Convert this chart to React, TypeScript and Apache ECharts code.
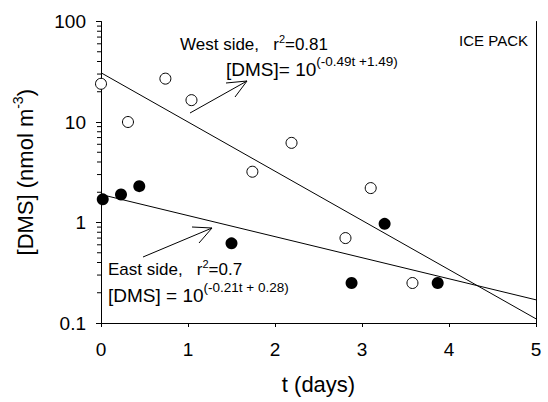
import React, { useEffect, useRef } from "react";
import * as echarts from "echarts";

const westT = [0, 0.31, 0.74, 1.04, 1.74, 2.19, 2.81, 3.1, 3.58];
const westDMS = [24, 10, 27, 16.5, 3.2, 6.2, 0.7, 2.2, 0.25];
const eastT = [0.02, 0.23, 0.44, 1.5, 2.88, 3.26, 3.87];
const eastDMS = [1.7, 1.9, 2.3, 0.62, 0.25, 0.97, 0.25];
const westFitT = [0, 5];
const westFitDMS = [30.9, 0.11];
const eastFitT = [0, 5];
const eastFitDMS = [1.9, 0.17];
const xTicks = [0, 1, 2, 3, 4, 5];
const yMinorTicks = [0.2, 0.3, 0.4, 0.5, 0.6, 0.7, 0.8, 0.9, 2, 3, 4, 5, 6, 7, 8, 9, 20, 30, 40, 50, 60, 70, 80, 90];

const FONT = "'Liberation Sans', Arial, Helvetica, sans-serif";

export default function App() {
  const ref = useRef<HTMLDivElement>(null);
  useEffect(() => {
    if (!ref.current) return;
    const chart = echarts.init(ref.current, undefined, { renderer: "svg" });
    const zip = (a: number[], b: number[]) => a.map((v, i) => [v, b[i]]);
    const eqRich = {
      a: { fontSize: 19, fontFamily: FONT, color: "#000" },
      s: { fontSize: 13.5, fontFamily: FONT, color: "#000", padding: [0, 0, 16, 0] },
    };
    const hdRich = {
      a: { fontSize: 17, fontFamily: FONT, color: "#000" },
      s: { fontSize: 11, fontFamily: FONT, color: "#000", padding: [0, 0, 11, 0] },
    };
    chart.setOption({
      animation: false,
      backgroundColor: "#fff",
      grid: { left: 101, right: 12, top: 21.5, bottom: 79 },
      xAxis: {
        type: "value",
        min: 0,
        max: 5,
        interval: 1,
        name: "t (days)",
        nameLocation: "middle",
        nameGap: 50,
        nameTextStyle: { fontSize: 22, fontFamily: FONT, color: "#000" },
        axisLine: { show: true, lineStyle: { color: "#000", width: 1 } },
        axisTick: { show: true, length: 4, lineStyle: { color: "#000" } },
        axisLabel: {
          fontSize: 19,
          fontFamily: FONT,
          color: "#000",
          margin: 17,
          formatter: (v: number) => (xTicks.includes(v) ? String(v) : ""),
        },
        splitLine: { show: false },
      },
      yAxis: [
        {
          type: "log",
          logBase: 10,
          min: 0.1,
          max: 100,
          name: "{a|[DMS] (nmol m}{s|-3}{a|)}",
          nameLocation: "middle",
          nameGap: 62,
          nameRotate: 90,
          nameTextStyle: {
            rich: {
              a: { fontSize: 22, fontFamily: FONT, color: "#000" },
              s: { fontSize: 14, fontFamily: FONT, color: "#000", padding: [0, 0, 14, 0] },
            },
          },
          axisLine: { show: true, lineStyle: { color: "#000", width: 1 } },
          axisTick: { show: true, length: 5, lineStyle: { color: "#000" } },
          axisLabel: { fontSize: 19, fontFamily: FONT, color: "#000", margin: 15 },
          splitLine: { show: false },
        },
        {
          type: "log",
          logBase: 10,
          min: 0.1,
          max: 100,
          position: "right",
          axisLine: { show: true, lineStyle: { color: "#000", width: 1 } },
          axisTick: { show: false },
          axisLabel: { show: false },
          splitLine: { show: false },
        },
      ],
      series: [
        {
          type: "scatter",
          data: yMinorTicks.map((v) => [0, v]),
          symbol: "rect",
          symbolSize: [4, 1],
          symbolOffset: [-2, 0],
          itemStyle: { color: "#000", opacity: 1 },
          clip: false,
          silent: true,
          z: 1,
        },
        {
          type: "line",
          data: zip(westFitT, westFitDMS),
          showSymbol: false,
          symbol: "none",
          lineStyle: { color: "#000", width: 1 },
          z: 2,
        },
        {
          type: "line",
          data: zip(eastFitT, eastFitDMS),
          showSymbol: false,
          symbol: "none",
          lineStyle: { color: "#000", width: 1 },
          z: 2,
        },
        {
          type: "scatter",
          data: zip(westT, westDMS),
          symbol: "circle",
          symbolSize: 11,
          itemStyle: { color: "#fff", borderColor: "#000", borderWidth: 1, opacity: 1 },
          clip: false,
          z: 3,
        },
        {
          type: "scatter",
          data: zip(eastT, eastDMS),
          symbol: "circle",
          symbolSize: 12,
          itemStyle: { color: "#000", opacity: 1 },
          clip: false,
          z: 3,
        },
      ],
      graphic: [
        {
          type: "text",
          x: 528,
          y: 40,
          style: { text: "ICE PACK", fontSize: 15, fontFamily: FONT, fill: "#000", align: "right", verticalAlign: "middle" },
        },
        {
          type: "text",
          x: 180,
          y: 44,
          style: { text: "{a|West side,   r}{s|2}{a|=0.81}", rich: hdRich, verticalAlign: "middle" },
        },
        {
          type: "text",
          x: 226,
          y: 69,
          style: { text: "{a|[DMS]= 10}{s|(-0.49t +1.49)}", rich: eqRich, verticalAlign: "middle" },
        },
        {
          type: "text",
          x: 108,
          y: 269,
          style: { text: "{a|East side,   r}{s|2}{a|=0.7}", rich: hdRich, verticalAlign: "middle" },
        },
        {
          type: "text",
          x: 108,
          y: 295,
          style: { text: "{a|[DMS] = 10}{s|(-0.21t + 0.28)}", rich: eqRich, verticalAlign: "middle" },
        },
        { type: "line", shape: { x1: 190, y1: 113, x2: 247, y2: 81 }, style: { stroke: "#000", lineWidth: 1 } },
        { type: "polyline", shape: { points: [[226, 83], [247, 81], [235, 97]] }, style: { stroke: "#000", lineWidth: 1, fill: "none" } },
        { type: "line", shape: { x1: 143, y1: 257, x2: 212, y2: 228 }, style: { stroke: "#000", lineWidth: 1 } },
        { type: "polyline", shape: { points: [[192, 227], [212, 228], [199, 243]] }, style: { stroke: "#000", lineWidth: 1, fill: "none" } },
      ],
    });
    return () => chart.dispose();
  }, []);
  return <div ref={ref} style={{ position: "absolute", left: 0, top: 0, width: 548, height: 402 }} />;
}
